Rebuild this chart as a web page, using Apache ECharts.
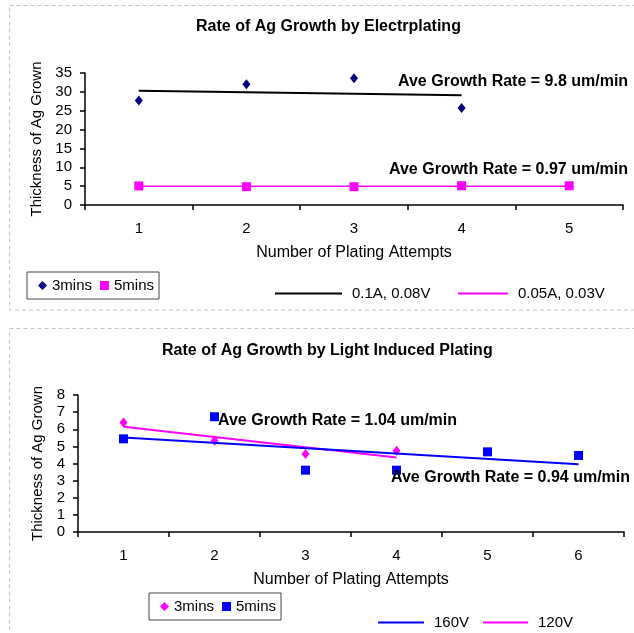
<!DOCTYPE html>
<html><head><meta charset="utf-8">
<script src="https://cdn.jsdelivr.net/npm/echarts@6/dist/echarts.min.js"></script>
<style>
html,body{margin:0;padding:0;background:#fff;}
#a{position:absolute;left:0;top:0;width:634px;height:318px;}
#b{position:absolute;left:0;top:318px;width:634px;height:315px;}
</style></head>
<body>
<div id="a"></div><div id="b"></div>
<script>
// ---- Chart 1 data (Electroplating) ----
const epCategories = ['1','2','3','4','5'];
const ep3mins = [27.7, 32.0, 33.6, 25.7, '-'];
const ep5mins = [5.05, 4.85, 4.85, 5.1, 5.1];
const epTrend1 = [30.3, '-', '-', 29.1, '-'];      // 0.1A, 0.08V
const epTrend2 = [5.0, '-', '-', '-', 5.0];        // 0.05A, 0.03V
const epTicks = [0, 35, 5];
const epNotes = ['Ave Growth Rate = 9.8 um/min', 'Ave Growth Rate = 0.97 um/min'];

// ---- Chart 2 data (Light Induced Plating) ----
const lipCategories = ['1','2','3','4','5','6'];
const lip3mins = [6.4, 5.33, 4.56, 4.74, '-', '-'];
const lip5mins = [5.44, 6.73, 3.61, 3.61, 4.68, 4.47];
const lipTrend160 = [5.52, '-', '-', '-', '-', 3.96];
const lipTrend120 = [6.14, '-', '-', 4.35, '-', '-'];
const lipTicks = [0, 8, 1];
const lipNotes = ['Ave Growth Rate = 1.04 um/min', 'Ave Growth Rate = 0.94 um/min'];

const FF = '"Liberation Sans", Arial, sans-serif';

function axisX(cats){
  return {
    type:'category', data:cats, boundaryGap:true,
    axisLine:{lineStyle:{color:'#000',width:1.5}},
    axisTick:{show:true,length:5,lineStyle:{color:'#000',width:1.5}},
    axisLabel:{color:'#000',fontSize:15,fontFamily:FF,margin:16},
    name:'Number of Plating Attempts', nameLocation:'middle', nameGap:40,
    nameTextStyle:{color:'#000',fontSize:16,fontFamily:FF},
    splitLine:{show:false}
  };
}
function axisY(t, gap){
  return {
    type:'value', min:t[0], max:t[1], interval:t[2],
    axisLine:{show:true,lineStyle:{color:'#000',width:1.5}},
    axisTick:{show:true,length:5,lineStyle:{color:'#000',width:1.5}},
    axisLabel:{color:'#000',fontSize:15,fontFamily:FF,margin:13},
    name:'Thickness of Ag Grown', nameLocation:'middle', nameGap:gap,
    nameTextStyle:{color:'#000',fontSize:15,fontFamily:FF},
    splitLine:{show:false}
  };
}
function note(text,x,y){
  return {type:'text',left:x,top:y-9,style:{text:text,font:'bold 16px '+FF,fill:'#000'},z:10};
}
function panel(x,y,w,h){
  return {type:'rect',shape:{x:x,y:y,width:w,height:h},style:{fill:'none',stroke:'#c4c4c4',lineWidth:1,lineDash:[4,3]},z:-1,silent:true};
}
const legText = {color:'#000',fontSize:15,fontFamily:FF};

// ---------- Chart 1 ----------
const c1 = echarts.init(document.getElementById('a'));
c1.setOption({
  animation:false,
  title:{text:'Rate of Ag Growth by Electrplating',left:196,top:19,padding:0,
    textStyle:{fontSize:16,fontWeight:'bold',fontFamily:FF,color:'#000'}},
  grid:{left:85,right:11,top:73,bottom:113},
  xAxis:axisX(epCategories),
  yAxis:axisY(epTicks,36),
  legend:[
    {left:27,top:272,orient:'horizontal',borderColor:'#444',borderWidth:1,padding:[6,5,6,11],
     itemGap:8,itemWidth:9,itemHeight:9,textStyle:legText,
     data:[{name:'3mins',icon:'diamond'},{name:'5mins',icon:'rect'}]},
    {left:275,top:286,padding:0,itemWidth:67,itemHeight:2,textStyle:Object.assign({padding:[0,0,0,5]},legText),
     data:[{name:'0.1A, 0.08V',icon:'rect'}]},
    {left:458,top:286,padding:0,itemWidth:50,itemHeight:2,textStyle:Object.assign({padding:[0,0,0,5]},legText),
     data:[{name:'0.05A, 0.03V',icon:'rect'}]}
  ],
  graphic:[panel(9.5,5.5,640,304.5), note(epNotes[0],398,83), note(epNotes[1],389,171)],
  series:[
    {name:'0.1A, 0.08V',type:'line',data:epTrend1,connectNulls:true,showSymbol:false,symbol:'none',
     lineStyle:{color:'#000',width:2},itemStyle:{color:'#000'},z:2},
    {name:'0.05A, 0.03V',type:'line',data:epTrend2,connectNulls:true,showSymbol:false,symbol:'none',
     lineStyle:{color:'#ff00ff',width:1.5},itemStyle:{color:'#ff00ff'},z:2},
    {name:'3mins',type:'scatter',data:ep3mins,symbol:'diamond',symbolSize:[8,10],
     itemStyle:{color:'#000080',opacity:1},z:3},
    {name:'5mins',type:'scatter',data:ep5mins,symbol:'rect',symbolSize:9,
     itemStyle:{color:'#ff00ff',opacity:1},z:3}
  ]
});

// ---------- Chart 2 ----------
const c2 = echarts.init(document.getElementById('b'));
c2.setOption({
  animation:false,
  title:{text:'Rate of Ag Growth by Light Induced Plating',left:162,top:25,padding:0,
    textStyle:{fontSize:16,fontWeight:'bold',fontFamily:FF,color:'#000'}},
  grid:{left:78,right:10,top:77,bottom:101},
  xAxis:axisX(lipCategories),
  yAxis:axisY(lipTicks,31),
  legend:[
    {left:149,top:275,orient:'horizontal',borderColor:'#444',borderWidth:1,padding:[6,5,6,11],
     itemGap:8,itemWidth:9,itemHeight:9,textStyle:legText,
     data:[{name:'3mins',icon:'diamond'},{name:'5mins',icon:'rect'}]},
    {left:378,top:297,padding:0,itemWidth:46,itemHeight:2,textStyle:Object.assign({padding:[0,0,0,5]},legText),
     data:[{name:'160V',icon:'rect'}]},
    {left:483,top:297,padding:0,itemWidth:45,itemHeight:2,textStyle:Object.assign({padding:[0,0,0,5]},legText),
     data:[{name:'120V',icon:'rect'}]}
  ],
  graphic:[panel(9.5,10.5,640,330), note(lipNotes[0],218,104), note(lipNotes[1],391,161)],
  series:[
    {name:'3mins',type:'scatter',data:lip3mins,symbol:'diamond',symbolSize:[8,10],
     itemStyle:{color:'#ff00ff',opacity:1},z:2},
    {name:'5mins',type:'scatter',data:lip5mins,symbol:'rect',symbolSize:9,
     itemStyle:{color:'#0000ff',opacity:1},z:2},
    {name:'120V',type:'line',data:lipTrend120,connectNulls:true,showSymbol:false,symbol:'none',
     lineStyle:{color:'#ff00ff',width:2},itemStyle:{color:'#ff00ff'},z:3},
    {name:'160V',type:'line',data:lipTrend160,connectNulls:true,showSymbol:false,symbol:'none',
     lineStyle:{color:'#0000ff',width:2},itemStyle:{color:'#0000ff'},z:3}
  ]
});
</script>
</body></html>
